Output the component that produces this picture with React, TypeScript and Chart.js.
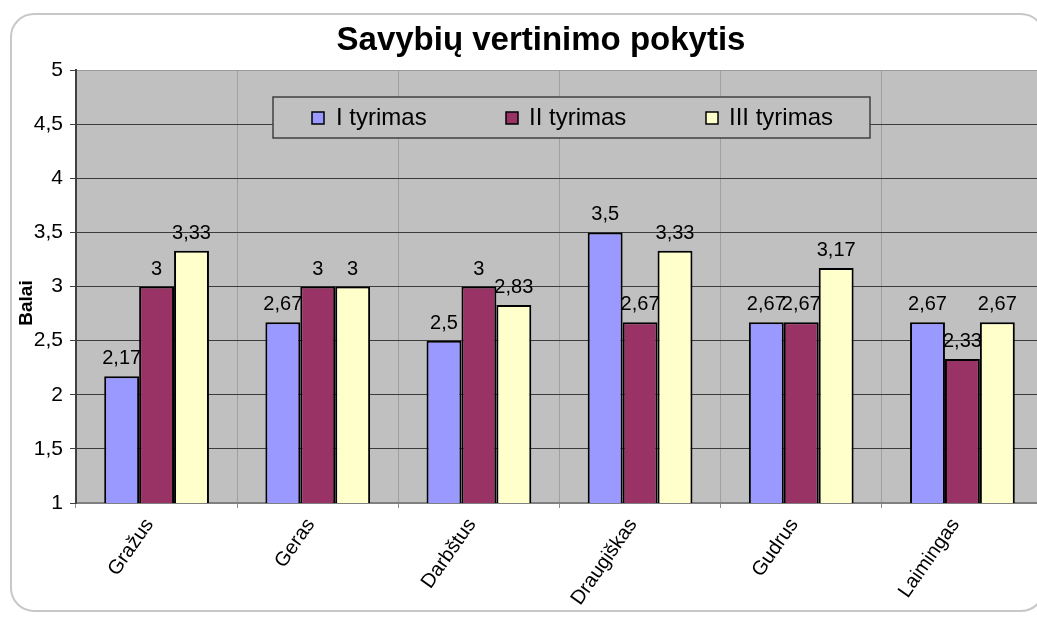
import { useEffect, useRef } from 'react';
import { Chart, registerables } from 'chart.js';

Chart.register(...registerables);

// ---- data ----
const chartTitle = 'Savybių vertinimo pokytis';
const yAxisTitle = 'Balai';
const categories = ['Gražus', 'Geras', 'Darbštus', 'Draugiškas', 'Gudrus', 'Laimingas'];
const seriesNames = ['I tyrimas', 'II tyrimas', 'III tyrimas'];
const tyrimas1 = [2.17, 2.67, 2.5, 3.5, 2.67, 2.67];
const tyrimas2 = [3, 3, 3, 2.67, 2.67, 2.33];
const tyrimas3 = [3.33, 3, 2.83, 3.33, 3.17, 2.67];
const yMin = 1;
const yMax = 5;
const yStep = 0.5;

const seriesValues = [tyrimas1, tyrimas2, tyrimas3];
const seriesColors = ['#9999FF', '#993366', '#FFFFCC'];

const FONT = '"Liberation Sans", Arial, Helvetica, sans-serif';
const fmt = (v: number) => String(v).replace('.', ',');

const decorPlugin = {
  id: 'decor',
  beforeDraw(chart: any) {
    const { ctx, chartArea } = chart;
    const { left, top, right, bottom } = chartArea;
    ctx.save();
    ctx.fillStyle = '#C0C0C0';
    ctx.fillRect(left, top, right - left, bottom - top);
    ctx.restore();
  },
  afterDatasetsDraw(chart: any) {
    const { ctx } = chart;
    ctx.save();

    // data labels
    ctx.font = `20px ${FONT}`;
    ctx.fillStyle = '#000';
    ctx.textAlign = 'center';
    ctx.textBaseline = 'alphabetic';
    chart.data.datasets.forEach((ds: any, i: number) => {
      const meta = chart.getDatasetMeta(i);
      meta.data.forEach((bar: any, j: number) => {
        ctx.fillText(fmt(ds.data[j]), bar.x, bar.y - 12);
      });
    });

    // legend box
    const lx = 273, ly = 97, lw = 597, lh = 41;
    ctx.fillStyle = '#C0C0C0';
    ctx.fillRect(lx, ly, lw, lh);
    ctx.strokeStyle = '#404040';
    ctx.lineWidth = 1.5;
    ctx.strokeRect(lx, ly, lw, lh);
    const sqX = [312, 506, 706];
    const txX = [336, 529, 729];
    ctx.font = `24px ${FONT}`;
    ctx.textAlign = 'left';
    chart.data.datasets.forEach((ds: any, i: number) => {
      ctx.fillStyle = ds.backgroundColor;
      ctx.fillRect(sqX[i], 112, 12, 12);
      ctx.strokeStyle = '#000';
      ctx.lineWidth = 1.5;
      ctx.strokeRect(sqX[i], 112, 12, 12);
      ctx.fillStyle = '#000';
      ctx.fillText(ds.label, txX[i], 125);
    });

    // title
    ctx.font = `bold 33px ${FONT}`;
    ctx.textAlign = 'center';
    ctx.fillStyle = '#000';
    ctx.fillText(chartTitle, 541, 50);

    // y axis title
    ctx.translate(27, 303);
    ctx.rotate(-Math.PI / 2);
    ctx.font = `bold 19px ${FONT}`;
    ctx.textBaseline = 'middle';
    ctx.fillText(yAxisTitle, 0, 0);

    ctx.restore();
  },
};

export default function App() {
  const ref = useRef<HTMLCanvasElement>(null);

  useEffect(() => {
    if (!ref.current) return;
    Chart.defaults.font.family = FONT;
    const chart = new Chart(ref.current, {
      type: 'bar',
      data: {
        labels: categories,
        datasets: seriesNames.map((name, i) => ({
          label: name,
          data: seriesValues[i],
          backgroundColor: seriesColors[i],
          borderColor: '#000',
          borderWidth: 2,
          categoryPercentage: 0.65,
          barPercentage: 1,
        })),
      },
      options: {
        responsive: false,
        animation: false,
        layout: { padding: { top: 70, right: 17, bottom: 0, left: 0 } },
        plugins: {
          legend: { display: false },
          tooltip: { enabled: false },
          title: { display: false },
        },
        scales: {
          x: {
            offset: true,
            grid: {
              offset: true,
              color: '#A0A0A0',
              tickColor: '#909090',
              tickLength: 5,
              lineWidth: 1,
            },
            border: { color: '#808080', width: 2 },
            ticks: {
              color: '#000',
              font: { size: 20, family: FONT },
              minRotation: 55,
              maxRotation: 55,
              padding: 6,
              labelOffset: -7,
              autoSkip: false,
            },
            afterFit: (scale: any) => {
              scale.height = 114;
            },
          },
          y: {
            min: yMin,
            max: yMax,
            grid: {
              color: (c: any) =>
                c.tick && c.tick.value === yMax
                  ? '#9A9A9A'
                  : c.tick && c.tick.value === yMin
                  ? 'rgba(0,0,0,0)'
                  : '#3C3C3C',
              tickColor: '#404040',
              tickLength: 6,
              lineWidth: 1,
            },
            border: { color: '#404040', width: 2 },
            ticks: {
              stepSize: yStep,
              color: '#000',
              font: { size: 21, family: FONT },
              padding: 7,
              callback: (v: any) => fmt(Number(v)),
            },
            afterFit: (scale: any) => {
              scale.width = 76;
            },
          },
        },
      },
      plugins: [decorPlugin],
    } as any);
    return () => chart.destroy();
  }, []);

  return (
    <div
      style={{
        position: 'fixed',
        left: 0,
        top: 0,
        width: 1037,
        height: 617,
        overflow: 'hidden',
        background: '#fff',
      }}
    >
      <div
        style={{
          position: 'absolute',
          left: 10,
          top: 13,
          width: 1035,
          height: 599,
          boxSizing: 'border-box',
          border: '2px solid #c8c8c8',
          borderRadius: 24,
        }}
      />
      <canvas
        ref={ref}
        width={1060}
        height={617}
        style={{ position: 'absolute', left: 0, top: 0, width: 1060, height: 617 }}
      />
    </div>
  );
}
